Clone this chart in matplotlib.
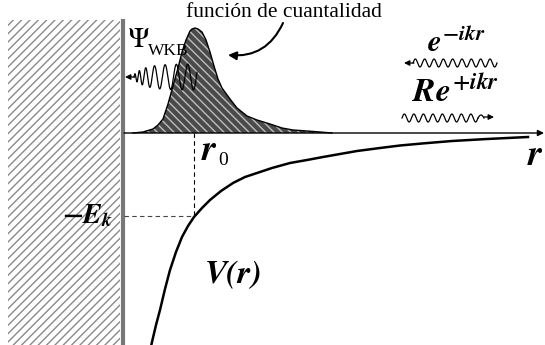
import numpy as np
import matplotlib
matplotlib.use("Agg")
import matplotlib.pyplot as plt
from matplotlib.patches import Rectangle

plt.rcParams['mathtext.fontset'] = 'custom'
plt.rcParams['mathtext.it'] = 'STIXGeneral:italic:bold'
plt.rcParams['mathtext.rm'] = 'STIXGeneral:bold'
plt.rcParams['mathtext.bf'] = 'STIXGeneral:bold'
plt.rcParams['hatch.linewidth'] = 1.0

v_r = [28, 30, 34, 38, 43, 48, 54, 60, 66, 72, 80, 88, 99, 111, 123, 135, 150,
       168, 185, 201, 218, 235, 258, 278, 300, 330, 365, 406]
v_V = [-218, -209, -192, -177, -156, -137, -119, -104, -93, -84, -75, -67, -58,
       -50, -44, -40, -35, -30, -27, -24, -21, -18, -15, -12.5, -10.5, -8, -6, -4]

# quantisation function (bump near the wall)
peak_r = [11, 21, 31, 36, 41, 46, 51, 56, 60, 64, 68, 70, 73, 76, 80, 84, 88,
          92, 96, 100, 108, 115, 125, 135, 148, 160, 171, 185, 198, 210]
peak_h = [0, 1, 4, 8, 14, 29, 47, 65, 81, 93, 102, 104, 105, 104, 101, 93, 81,
          67, 54, 45, 34, 25, 17, 13, 9, 5, 3, 2, 1, 0]

r0 = 72
Ek = 83

fig = plt.figure(figsize=(5.45, 3.45), dpi=100)
ax = fig.add_axes([0, 0, 1, 1])
ax.set_xlim(-122, 423)
ax.set_ylim(-212, 133)
ax.axis('off')

# wall
ax.add_patch(Rectangle((-114, -212), 112, 325, facecolor='white',
                       edgecolor='#8a8a8a', hatch='////', lw=0))
ax.plot([1, 1], [-212, 114], color='#777777', lw=3, solid_capstyle='butt')

# r axis
ax.annotate('', xy=(422, 0), xytext=(2, 0), annotation_clip=False,
            arrowprops=dict(arrowstyle='-|>', color='black', lw=1,
                            mutation_scale=9, shrinkA=0, shrinkB=0))

# bump
ax.fill_between(peak_r, peak_h, 0, facecolor='#4a4a4a', edgecolor='#bdbdbd',
                hatch='\\\\\\\\', lw=0, zorder=2)
ax.plot(peak_r, peak_h, color='black', lw=1, zorder=3)

# potential and dashed guides
ax.plot(v_r, v_V, color='black', lw=1.8)
ax.plot([r0, r0], [0, -Ek], color='black', lw=0.8, dashes=(4, 3))
ax.plot([2, r0], [-Ek, -Ek], color='#444444', lw=0.8, dashes=(4, 3))


def squiggle(x0, x1, y, amp, cycles):
    x = np.linspace(x0, x1, 400)
    t = (x - x0) / (x1 - x0)
    ax.plot(x, y + amp * np.sin(2 * np.pi * cycles * t), color='black', lw=0.9, zorder=4)


def head(x_from, x_to, y):
    ax.annotate('', xy=(x_to, y), xytext=(x_from, y), annotation_clip=False,
                arrowprops=dict(arrowstyle='-|>', color='black', lw=0.9,
                                mutation_scale=8, shrinkA=0, shrinkB=0), zorder=4)


# WKB wave: tight and small near the wall, wide near the turning point
xw = np.linspace(12, 75, 600)
tw = (xw - 12) / 63
phase = 5.5 * tw + 13 * 0.12 * (1 - np.exp(-tw / 0.12))
amp = 2.5 + 10.5 * (1 - np.exp(-tw / 0.18))
ax.plot(xw, 56 + amp * np.sin(2 * np.pi * phase), color='black', lw=0.9, zorder=4)
head(13, 3, 56)

# incoming / reflected waves
squiggle(291, 375, 70, 4, 9)
head(292, 282, 70)
squiggle(280, 356, 15, 4, 8)
xc = np.linspace(356, 362, 20)
ax.plot(xc, 15 + 3 * np.sin(np.pi * (xc - 356) / 6), color='black', lw=0.9)
head(362, 372, 16)

# labels
ax.text(162, 116, 'función de cuantalidad', ha='center', va='baseline',
        fontsize=15.5, family='Liberation Serif')
ax.annotate('', xy=(106, 78), xytext=(161, 110),
            arrowprops=dict(arrowstyle='-|>', color='black', lw=1.5,
                            mutation_scale=12, connectionstyle='arc3,rad=-0.35',
                            shrinkA=0, shrinkB=0))
ax.text(5, 86, 'Ψ', fontsize=21, family='STIXGeneral', va='baseline')
ax.text(26, 78, 'WKB', fontsize=12.5, family='Liberation Serif', va='baseline')
ax.text(80, -27, 'r', fontsize=26, family='STIXGeneral', style='italic',
        weight='bold', va='baseline')
ax.text(96, -32, '0', fontsize=14, family='Liberation Serif', va='baseline')
ax.text(406, -32, 'r', fontsize=26, family='STIXGeneral', style='italic',
        weight='bold', va='baseline')
ax.text(-9, -90, r'$-E_k$', fontsize=20, ha='right', va='baseline')
ax.text(83, -150, 'V(r)', fontsize=24, family='STIXGeneral', style='italic',
        weight='bold', va='baseline')
ax.text(305, 81, r'$e^{-ikr}$', fontsize=22, va='baseline')
ax.text(290, 31, r'$Re^{+ikr}$', fontsize=24, va='baseline')

fig.savefig('out.png', dpi=100)
